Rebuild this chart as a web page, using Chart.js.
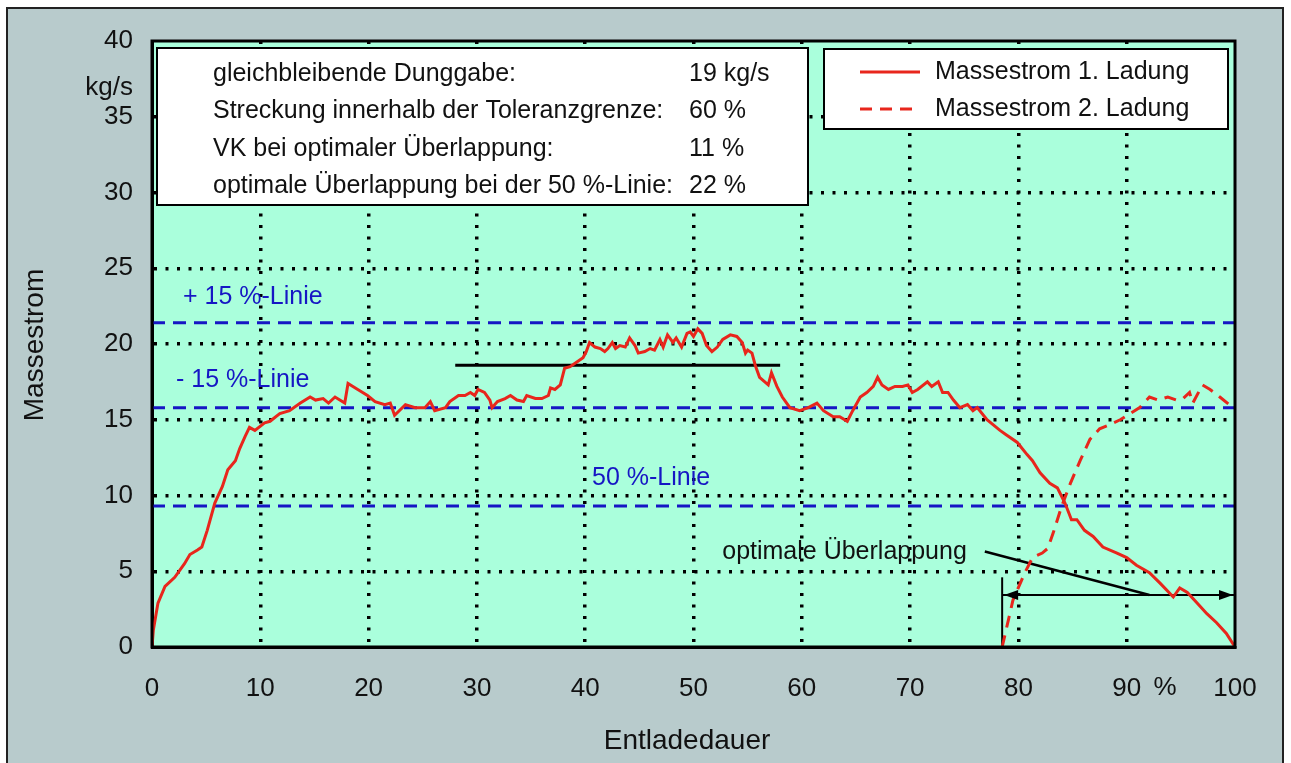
<!DOCTYPE html>
<html>
<head>
<meta charset="utf-8">
<script src="https://cdn.jsdelivr.net/npm/chart.js@4/dist/chart.umd.min.js"></script>
<style>
  html, body { margin: 0; padding: 0; background: #fff; }
  #chart { display: block; }
</style>
</head>
<body>
<canvas id="chart" width="1291" height="763"></canvas>
<script>
// data
const xTickLabels = ['0', '10', '20', '30', '40', '50', '60', '70', '80', '90', '100'];
const yTickLabels = ['0', '5', '10', '15', '20', '25', '30', '35', '40'];

const series1Name = 'Massestrom 1. Ladung';
const series1X = [0, 0.12, 0.55, 1.2, 2.1, 3.0, 3.5, 4.2, 4.6, 5.1, 5.8, 6.5, 7.0, 7.7, 8.1, 8.6, 9.0, 9.5, 10.4, 10.9,
  11.8, 12.7, 13.7, 14.6, 15.1, 15.8, 16.3, 16.9, 17.8, 18.1, 19.0, 19.9, 20.6, 21.5, 22.0, 22.4, 23.4, 24.3, 25.2, 25.7,
  26.1, 27.1, 27.5, 28.3, 28.9, 29.4, 29.8, 30.1, 30.7, 31.2, 31.4, 31.9, 32.6, 33.1, 33.7, 34.3, 34.6, 35.4, 36.0, 36.6,
  36.8, 37.2, 37.7, 38.1, 38.6, 39.2, 39.8, 40.1, 40.4, 40.9, 41.4, 41.8, 42.1, 42.5, 42.8, 43.2, 43.7, 44.1, 44.6, 44.9,
  45.5, 46.0, 46.4, 46.9, 47.2, 47.6, 48.1, 48.4, 48.9, 49.4, 49.7, 50.0, 50.4, 50.8, 51.2, 51.7, 52.2, 52.7, 53.4, 54.0,
  54.5, 54.8, 55.0, 55.4, 55.7, 56.1, 56.9, 57.2, 57.7, 58.2, 58.9, 59.8, 60.6, 61.4, 62.0, 62.9, 63.5, 64.2, 64.7, 65.4,
  66.0, 66.6, 67.0, 67.4, 68.0, 68.6, 69.3, 69.8, 70.2, 70.7, 71.6, 72.0, 72.6, 73.0, 73.5, 74.0, 74.6, 75.3, 75.8, 76.2,
  77.1, 78.3, 78.9, 79.9, 80.8, 81.3, 82.0, 82.9, 83.6, 84.3, 84.9, 85.4, 86.1, 86.9, 87.8, 89.1, 90.0, 90.9, 92.1, 93.1,
  94.3, 94.9, 95.6, 96.5, 97.4, 98.3, 99.2, 100];
const series1Y = [0, 1.1, 2.9, 4.0, 4.6, 5.5, 6.1, 6.4, 6.6, 7.7, 9.5, 10.6, 11.7, 12.3, 13.1, 13.9, 14.5, 14.3, 14.8, 14.9,
  15.4, 15.6, 16.1, 16.5, 16.3, 16.4, 16.1, 16.5, 16.1, 17.4, 17.0, 16.6, 16.2, 16.0, 16.1, 15.3, 16.0, 15.8, 15.8, 16.2,
  15.6, 15.8, 16.2, 16.6, 16.6, 16.8, 16.6, 17.0, 16.8, 16.3, 15.8, 16.2, 16.4, 16.6, 16.3, 16.2, 16.6, 16.4, 16.4, 16.6,
  17.1, 17.0, 17.3, 18.4, 18.5, 18.8, 19.1, 19.5, 20.1, 19.8, 19.7, 19.5, 19.7, 20.1, 19.7, 19.9, 19.8, 20.4, 19.9, 19.4,
  19.5, 19.7, 19.6, 20.3, 19.8, 20.6, 20.1, 20.4, 19.8, 20.7, 20.8, 20.5, 21.0, 20.7, 19.9, 19.5, 19.8, 20.3, 20.6, 20.5,
  20.1, 19.4, 19.6, 19.4, 18.6, 17.8, 17.3, 18.1, 17.2, 16.5, 15.8, 15.6, 15.8, 16.1, 15.6, 15.2, 15.2, 14.9, 15.6, 16.5,
  16.8, 17.2, 17.8, 17.3, 17.0, 17.2, 17.2, 17.3, 16.8, 17.0, 17.5, 17.2, 17.5, 16.8, 16.8, 16.3, 15.8, 16.0, 15.6, 15.8,
  15.0, 14.3, 14.0, 13.5, 12.7, 12.3, 11.5, 10.8, 10.5, 9.5, 8.4, 8.4, 7.7, 7.3, 6.6, 6.2, 5.9, 5.4, 4.9, 4.2,
  3.3, 3.9, 3.6, 2.9, 2.2, 1.6, 0.9, 0];

const series2Name = 'Massestrom 2. Ladung';
const series2X = [78.5, 79.5, 80.6, 81.3, 82.2, 82.7, 83.2, 84.0, 84.8, 85.7, 86.6, 87.5, 88.5, 89.4, 90.3, 91.2, 92.1,
  92.9, 93.8, 94.6, 95.2, 95.8, 96.1, 97.0, 97.7, 98.6, 99.8];
const series2Y = [0, 3.1, 4.9, 5.9, 6.2, 6.5, 7.5, 9.3, 10.8, 12.3, 13.7, 14.4, 14.7, 15.0, 15.4, 15.8, 16.5,
  16.3, 16.5, 16.3, 16.4, 16.8, 16.1, 17.3, 17.0, 16.5, 15.8];

const refLevels = [21.4, 15.8, 9.3];
const refNames = ['+ 15 %-Linie', '- 15 %-Linie', '50 %-Linie'];
const meanLevel = 18.6;
const meanRange = [28, 58];

const overlapRange = [78.5, 100];
const overlapArrowY = 3.43;
const overlapMarkTop = 4.6;
const overlapText = 'optimale Überlappung';
const overlapPointer = [[76.9, 6.3], [92.1, 3.43]];

const infoLabels = ['gleichbleibende Dunggabe:', 'Streckung innerhalb der Toleranzgrenze:',
  'VK bei optimaler Überlappung:', 'optimale Überlappung bei der 50 %-Linie:'];
const infoValues = ['19 kg/s', '60 %', '11 %', '22 %'];

const xTitle = 'Entladedauer';
const yTitle = 'Massestrom';
const yUnit = 'kg/s';
const xUnit = '%';

const FONT = '"Liberation Sans", Arial, sans-serif';
const RED = '#e8261c';
const BLUE = '#1616c4';

function pts(xs, ys) {
  return xs.map((x, i) => ({ x, y: ys[i] }));
}
function flat(y, x0, x1) {
  return [{ x: x0, y }, { x: x1, y }];
}

const datasets = [
  { label: series1Name, data: pts(series1X, series1Y), borderColor: RED, borderWidth: 3 },
  { label: series2Name, data: pts(series2X, series2Y), borderColor: RED, borderWidth: 3, borderDash: [12, 8] },
  { label: 'mean', data: flat(meanLevel, meanRange[0], meanRange[1]), borderColor: '#000', borderWidth: 3 },
  { label: 'mark', data: [{ x: overlapRange[0], y: 0 }, { x: overlapRange[0], y: overlapMarkTop }], borderColor: '#000', borderWidth: 2 },
  { label: 'span', data: flat(overlapArrowY, overlapRange[0], overlapRange[1]), borderColor: '#000', borderWidth: 2 },
  { label: 'pointer', data: overlapPointer.map(p => ({ x: p[0], y: p[1] })), borderColor: '#000', borderWidth: 2.5 }
].concat(refLevels.map((lv, i) => ({
  label: refNames[i], data: flat(lv, 0, 100), borderColor: BLUE, borderWidth: 3, borderDash: [13, 8]
})));

const decor = {
  id: 'decor',
  beforeDraw(chart) {
    const { ctx, chartArea: a } = chart;
    ctx.save();
    ctx.fillStyle = '#fff';
    ctx.fillRect(0, 0, chart.width, chart.height);
    ctx.fillStyle = '#b8cbcc';
    ctx.fillRect(7, 8, 1276, 760);
    ctx.strokeStyle = '#222';
    ctx.lineWidth = 2;
    ctx.strokeRect(7, 8, 1276, 760);
    ctx.fillStyle = '#aaffdc';
    ctx.fillRect(a.left, a.top, a.right - a.left, a.bottom - a.top);
    ctx.restore();
  },
  afterDatasetsDraw(chart) {
    const { ctx, chartArea: a, scales: { x, y } } = chart;
    ctx.save();

    // arrow heads on the overlap span
    const ay = y.getPixelForValue(overlapArrowY);
    const xl = x.getPixelForValue(overlapRange[0]);
    const xr = x.getPixelForValue(overlapRange[1]);
    ctx.fillStyle = '#000';
    [[xl, 1], [xr, -1]].forEach(([px, d]) => {
      ctx.beginPath();
      ctx.moveTo(px + d * 2, ay);
      ctx.lineTo(px + d * 16, ay - 5);
      ctx.lineTo(px + d * 16, ay + 5);
      ctx.closePath();
      ctx.fill();
    });

    // overlap label
    ctx.font = '25px ' + FONT;
    ctx.fillStyle = '#111';
    ctx.textAlign = 'right';
    ctx.textBaseline = 'middle';
    ctx.fillText(overlapText, x.getPixelForValue(overlapPointer[0][0]) - 18, 552);

    // blue line labels
    ctx.fillStyle = BLUE;
    ctx.textAlign = 'left';
    ctx.fillText(refNames[0], 183, 297);
    ctx.fillText(refNames[1], 176, 380);
    ctx.fillText(refNames[2], 592, 478);

    // info box
    ctx.fillStyle = '#fff';
    ctx.fillRect(157, 48, 651, 157);
    ctx.strokeStyle = '#000';
    ctx.lineWidth = 2;
    ctx.strokeRect(157, 48, 651, 157);
    ctx.fillStyle = '#111';
    infoLabels.forEach((t, i) => {
      const ty = 74 + i * 37.5;
      ctx.fillText(t, 213, ty);
      ctx.fillText(infoValues[i], 689, ty);
    });

    // legend box
    ctx.fillStyle = '#fff';
    ctx.fillRect(824, 49, 404, 80);
    ctx.strokeRect(824, 49, 404, 80);
    [datasets[0], datasets[1]].forEach((ds, i) => {
      const ly = 72 + i * 37;
      ctx.strokeStyle = ds.borderColor;
      ctx.lineWidth = 3;
      ctx.setLineDash(ds.borderDash || []);
      ctx.beginPath();
      ctx.moveTo(860, ly);
      ctx.lineTo(920, ly);
      ctx.stroke();
      ctx.setLineDash([]);
      ctx.fillStyle = '#111';
      ctx.fillText(ds.label, 935, ly);
    });

    // plot frame
    ctx.strokeStyle = '#000';
    ctx.lineWidth = 3;
    ctx.strokeRect(a.left, a.top, a.right - a.left, a.bottom - a.top);
    ctx.restore();
  },
  afterDraw(chart) {
    const { ctx } = chart;
    ctx.save();
    ctx.fillStyle = '#111';
    ctx.font = '26px ' + FONT;
    ctx.textBaseline = 'middle';
    ctx.textAlign = 'right';
    ctx.fillText(yUnit, 133, 88);
    ctx.textAlign = 'center';
    ctx.fillText(xUnit, 1165, 688);
    ctx.font = '28px ' + FONT;
    ctx.fillText(xTitle, 687, 741);
    ctx.translate(35, 345);
    ctx.rotate(-Math.PI / 2);
    ctx.fillText(yTitle, 0, 0);
    ctx.restore();
  }
};

const dotted = (ctx) => (ctx.tick && (ctx.index === 0 || ctx.tick.value === ctx.scale.max)) ? 'rgba(0,0,0,0)' : '#000';

new Chart(document.getElementById('chart'), {
  type: 'line',
  data: { datasets },
  options: {
    responsive: false,
    animation: false,
    devicePixelRatio: 1,
    layout: { padding: { top: 41, right: 56, left: 0, bottom: 0 } },
    elements: { point: { radius: 0 }, line: { tension: 0, fill: false } },
    plugins: { legend: { display: false }, tooltip: { enabled: false } },
    scales: {
      x: {
        type: 'linear', min: 0, max: 100,
        afterFit: s => { s.height = 116; },
        ticks: {
          stepSize: 10, padding: 26, color: '#111', autoSkip: false, maxRotation: 0,
          font: { size: 26, family: FONT },
          callback: (v, i) => xTickLabels[i]
        },
        grid: { color: dotted, lineWidth: 3.5, drawTicks: false },
        border: { display: true, color: '#000', width: 3, dash: [3, 8.5] }
      },
      y: {
        type: 'linear', min: 0, max: 40,
        afterFit: s => { s.width = 152; },
        ticks: {
          stepSize: 5, padding: 19, color: '#111',
          font: { size: 26, family: FONT },
          callback: (v, i) => yTickLabels[i]
        },
        grid: { color: dotted, lineWidth: 3.5, drawTicks: false },
        border: { display: true, color: '#000', width: 3, dash: [3, 8.5] }
      }
    }
  },
  plugins: [decor]
});
</script>
</body>
</html>
